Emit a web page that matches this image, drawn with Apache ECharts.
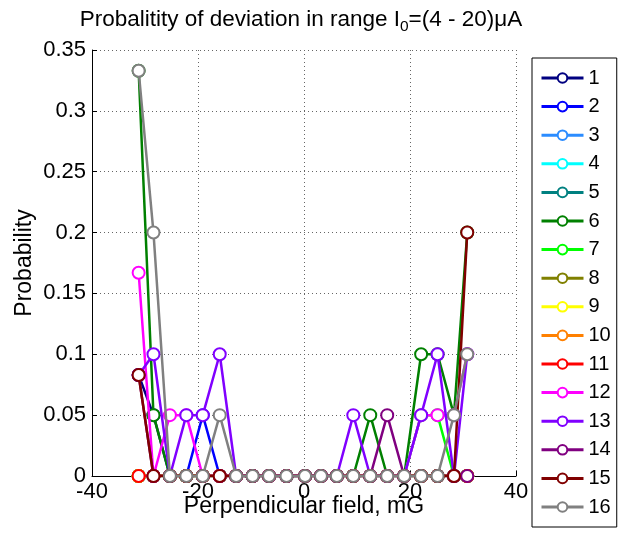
<!DOCTYPE html>
<html>
<head>
<meta charset="utf-8">
<script src="https://cdn.jsdelivr.net/npm/echarts@6/dist/echarts.min.js"></script>
<style>
html,body{margin:0;padding:0;background:#fff;}
#chart{width:618px;height:535px;}
</style>
</head>
<body>
<div id="chart"></div>
<script>
// Perpendicular field positions (mG)
const fieldX = [-31.2, -28.4, -25.3, -22.2, -19.1, -15.9, -12.8, -9.7, -6.6, -3.3, 0.2,
                3.2, 6.2, 9.3, 12.5, 15.7, 18.9, 22.1, 25.2, 28.3, 30.8];

const seriesNames = ['1','2','3','4','5','6','7','8','9','10','11','12','13','14','15','16'];
const seriesColors = ['#000080','#0000ff','#2b8cff','#00ffff','#008080','#008000','#00ff00','#808000',
                      '#ffff00','#ff8000','#ff0000','#ff00ff','#8000ff','#800080','#800000','#808080'];

const s1  = [0.083,0.05,0,0,0,0,0,0,0,0,0,0,0,0,0,0,0,0,0,0,0];
const s2  = [0,0,0,0,0.05,0,0,0,0,0,0,0,0,0,0,0,0,0,0,0,0];
const s3  = [0,0,0,0,0,0,0,0,0,0,0,0,0,0,0,0,0,0,0,0,0];
const s4  = [0,0,0,0,0,0,0,0,0,0,0,0,0,0,0,0,0,0,0,0,0];
const s5  = [0,0,0,0,0,0,0,0,0,0,0,0,0,0,0,0,0,0,0,0,0];
const s6  = [0.333,0.05,0,0,0,0,0,0,0,0,0,0,0,0,0.05,0,0,0.1,0.1,0.05,0.2];
const s7  = [0,0,0,0,0,0,0,0,0,0,0,0,0,0,0,0,0,0.05,0.05,0,0];
const s8  = [0,0,0,0,0,0,0,0,0,0,0,0,0,0,0,0,0,0,0,0,0];
const s9  = [0,0,0,0,0,0,0,0,0,0,0,0,0,0,0,0,0,0,0,0,0];
const s10 = [0,0,0,0,0,0,0,0,0,0,0,0,0,0,0,0,0,0,0,0,0];
const s11 = [0,0,0,0,0,0,0,0,0,0,0,0,0,0,0,0,0,0,0,0,0];
const s12 = [0.167,0,0.05,0.05,0,0,0,0,0,0,0,0,0,0,0,0,0,0.05,0.05,0.05,0.1];
const s13 = [0.083,0.1,0,0.05,0.05,0.1,0,0,0,0,0,0,0,0.05,0,0,0,0.05,0.1,0,0.1];
const s14 = [0.083,0,0,0,0,0,0,0,0,0,0,0,0,0,0,0.05,0,0,0,0,0];
const s15 = [0.083,0,0,0,0,0,0,0,0,0,0,0,0,0,0,0,0,0,0,0,0.2];
const s16 = [0.333,0.2,0,0,0,0.05,0,0,0,0,0,0,0,0,0,0,0,0,0,0.05,0.1];

const allValues = [s1,s2,s3,s4,s5,s6,s7,s8,s9,s10,s11,s12,s13,s14,s15,s16];

const FONT = "'Liberation Sans', Arial, sans-serif";

const series = allValues.map((vals, i) => ({
  name: seriesNames[i],
  type: 'line',
  z: 2 + i,
  data: vals.map((v, j) => [fieldX[j], v]),
  symbol: 'emptyCircle',
  symbolSize: 12,
  showAllSymbol: true,
  color: seriesColors[i],
  lineStyle: { width: 2.5, color: seriesColors[i] },
  itemStyle: { color: seriesColors[i], borderColor: seriesColors[i], borderWidth: 2.5 },
  emphasis: { disabled: true },
  animation: false
}));

const chart = echarts.init(document.getElementById('chart'), null, { renderer: 'canvas' });
chart.setOption({
  animation: false,
  backgroundColor: '#ffffff',
  title: {
    text: '{a|Probalitity of deviation in range I}{sub|0}{a|=(4 - 20)μA}',
    left: 296, top: 0, textAlign: 'center',
    textStyle: {
      fontWeight: 'normal',
      rich: {
        a: { fontFamily: FONT, fontSize: 22.5, fontWeight: 'normal', color: '#000' },
        sub: { fontFamily: FONT, fontSize: 15.5, fontWeight: 'normal', color: '#000', padding: [14, 0, 0, 0] }
      }
    }
  },
  grid: { left: 92, right: 102, top: 50, bottom: 59, containLabel: false },
  legend: {
    orient: 'vertical',
    left: 532, top: 58,
    data: seriesNames,
    padding: [10, 6, 10, 8],
    borderColor: '#000', borderWidth: 1, backgroundColor: '#fff',
    itemWidth: 42, itemHeight: 12, itemGap: 8.6,
    lineStyle: { width: 3 },
    textStyle: { fontFamily: FONT, fontSize: 20, color: '#000', lineHeight: 20 }
  },
  xAxis: {
    type: 'value', min: -40, max: 40, interval: 20,
    name: 'Perpendicular field, mG', nameLocation: 'middle', nameGap: 19,
    nameMoveOverlap: false,
    nameTextStyle: { fontFamily: FONT, fontSize: 23, color: '#000' },
    axisLine: { show: true, onZero: false, lineStyle: { color: '#000', width: 1 } },
    axisTick: { show: true, inside: true, length: 5, lineStyle: { color: '#000' } },
    axisLabel: { fontFamily: FONT, fontSize: 22, color: '#000', margin: 5 },
    splitLine: { show: true, lineStyle: { color: '#666', type: [1, 3], width: 1 } }
  },
  yAxis: {
    type: 'value', min: 0, max: 0.35, interval: 0.05,
    name: 'Probability', nameLocation: 'middle', nameGap: 56,
    nameMoveOverlap: false,
    nameTextStyle: { fontFamily: FONT, fontSize: 23, color: '#000' },
    axisLine: { show: true, onZero: false, lineStyle: { color: '#000', width: 1 } },
    axisTick: { show: true, inside: true, length: 5, lineStyle: { color: '#000' } },
    axisLabel: { fontFamily: FONT, fontSize: 22, color: '#000', margin: 6 },
    splitLine: { show: true, lineStyle: { color: '#666', type: [1, 3], width: 1 } }
  },
  series: series
});
</script>
</body>
</html>
